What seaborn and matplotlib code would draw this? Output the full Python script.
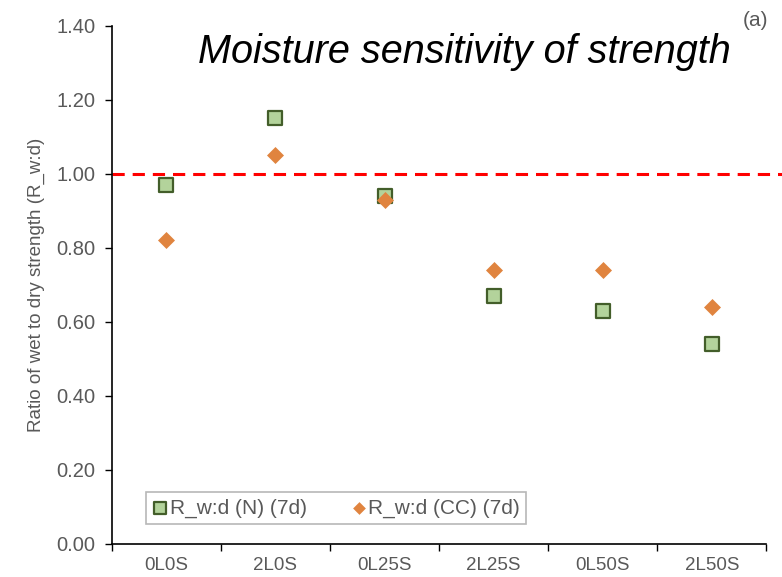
import numpy as np
import pandas as pd
import matplotlib
matplotlib.use("Agg")
import matplotlib.pyplot as plt
from matplotlib.ticker import FixedLocator
import seaborn as sns

# data
mixes = ["0L0S", "2L0S", "0L25S", "2L25S", "0L50S", "2L50S"]
ratio_n = [0.97, 1.15, 0.94, 0.67, 0.63, 0.54]
ratio_cc = [0.82, 1.05, 0.93, 0.74, 0.74, 0.64]

df = pd.DataFrame({
    "mix": mixes * 2,
    "ratio": ratio_n + ratio_cc,
    "series": ["R_w:d (N) (7d)"] * 6 + ["R_w:d (CC) (7d)"] * 6,
})

sns.set_style("white")
plt.rcParams["font.family"] = ["Liberation Sans", "DejaVu Sans"]

fig, ax = plt.subplots(figsize=(7.82, 5.77), dpi=100)
fig.subplots_adjust(left=0.143, right=0.98, top=0.955, bottom=0.058)

grey = "#595959"

# square markers (N)
sns.scatterplot(data=df[df["series"] == "R_w:d (N) (7d)"], x="mix", y="ratio",
                marker="s", s=115, color="#B3D39B", edgecolor="#435E2A",
                linewidth=1.6, label="R_w:d (N) (7d)", ax=ax, zorder=3)
# diamond markers (CC)
sns.scatterplot(data=df[df["series"] == "R_w:d (CC) (7d)"], x="mix", y="ratio",
                marker="D", s=75, color="#E0843F", edgecolor="#E0843F",
                linewidth=0, label="R_w:d (CC) (7d)", ax=ax, zorder=4)

# reference line at ratio = 1
ax.plot([0, 1.03], [1.0, 1.0], color="red", linestyle=(0, (4, 2.6)), linewidth=2.2,
        transform=ax.get_yaxis_transform(), clip_on=False, zorder=2)

ax.set_xlim(-0.5, len(mixes) - 0.5)
ax.set_ylim(0, 1.4)
ax.set_yticks(np.arange(0, 1.41, 0.2))
ax.set_yticklabels([f"{v:.2f}" for v in np.arange(0, 1.41, 0.2)])
ax.xaxis.set_minor_locator(FixedLocator(np.arange(-0.5, len(mixes), 1)))

for side in ["top", "right"]:
    ax.spines[side].set_visible(False)
for side in ["left", "bottom"]:
    ax.spines[side].set_color("black")
    ax.spines[side].set_linewidth(1.2)

ax.tick_params(axis="y", which="major", direction="out", length=5, width=1,
               colors="black", labelcolor=grey, labelsize=14.5, left=True, pad=7)
ax.tick_params(axis="x", which="major", length=0, labelcolor=grey, labelsize=13.5, pad=10)
ax.tick_params(axis="x", which="minor", direction="out", length=5, width=1,
               colors="black", bottom=True)

ax.set_xlabel("")
ax.set_ylabel("Ratio of wet to dry strength (R_w:d)", color=grey, fontsize=13.5, labelpad=8)

ax.set_title("Moisture sensitivity of strength", fontsize=28.5, style="italic",
             color="black", x=0.539, y=0.929, pad=0)
fig.text(0.966, 0.955, "(a)", fontsize=15, color=grey, ha="center")

leg = ax.legend(loc="lower left", bbox_to_anchor=(0.036, 0.018), ncol=2,
                frameon=True, fancybox=False, edgecolor="#A6A6A6",
                fontsize=15, handlelength=0.8, handletextpad=0.05, columnspacing=2.1,
                borderpad=0.3, markerscale=0.75)
for t in leg.get_texts():
    t.set_color(grey)
leg.get_frame().set_linewidth(1.2)

fig.savefig("out.png", dpi=100)
